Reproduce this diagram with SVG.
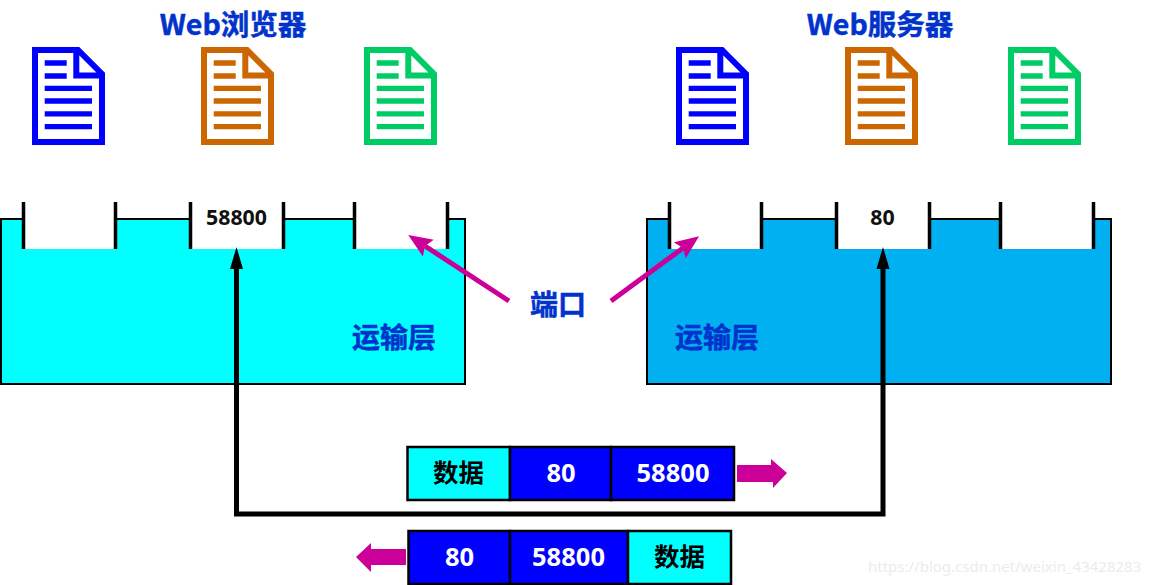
<svg xmlns="http://www.w3.org/2000/svg" width="1149" height="585" viewBox="0 0 1149 585">
<style>
text{font-family:"Noto Sans CJK SC","Noto Sans",sans-serif;font-weight:700;text-anchor:middle}
.t{fill:#0033cc;stroke:#0033cc;stroke-width:.5}
.big{font-size:28.500px}
.cn{font-size:28px}
.pk{font-size:25.500px;font-family:"Noto Sans","Noto Sans CJK SC",sans-serif}
.w{fill:#fff}.k{fill:#000}
.port{font-size:21.300px;font-family:"Noto Sans",sans-serif;fill:#111}
.box{stroke:#000;stroke-width:2}
.tick{stroke:#000;stroke-width:3.500}
.cell{stroke:#000;stroke-width:2.500}
.doc{fill:none;stroke-width:6;stroke-miterlimit:10}
.ln{stroke-width:5.300;fill:none}
.mg{stroke:#cc0099;stroke-width:5;fill:none}
.wm{font-family:"Noto Sans",sans-serif;font-weight:400;font-size:15px;fill:#ececec;text-anchor:start}
</style>
<defs>
<g id="d">
<path class="doc" d="M3 3H46L70 27V95H3Z M44.300 3V28.500H70"/>
<path class="ln" d="M12.700 16H34.700M12.700 29H34.700M12.700 41.300H60M12.700 54H60M12.700 66.800H60M12.700 79.700H60"/>
</g>
<marker id="mh" markerUnits="userSpaceOnUse" markerWidth="30" markerHeight="24" refX="4" refY="10" orient="auto"><path d="M0 0L24 10L0 20L4 10Z" fill="#cc0099"/></marker>
</defs>
<rect width="1149" height="585" fill="#fff"/>
<g id="web-browser-title"><text class="t big" x="233" y="35">Web浏览器</text></g>
<g id="web-server-title"><text class="t big" x="880" y="35">Web服务器</text></g>
<g id="doc1" stroke="#0000ff"><use href="#d" x="32" y="47"/></g>
<g id="doc2" stroke="#cc6600"><use href="#d" x="201" y="47"/></g>
<g id="doc3" stroke="#00cc66"><use href="#d" x="364" y="47"/></g>
<g id="doc4" stroke="#0000ff"><use href="#d" x="676" y="47"/></g>
<g id="doc5" stroke="#cc6600"><use href="#d" x="845" y="47"/></g>
<g id="doc6" stroke="#00cc66"><use href="#d" x="1008" y="47"/></g>
<g id="transport-left">
<rect class="box" x="1" y="219" width="464" height="165" fill="#00ffff"/>
<path fill="#fff" d="M23 200H116V249H23ZM190 200H284V249H190ZM354 200H447V249H354Z"/>
<path class="tick" d="M23.500 202V249M115.500 202V249M190.500 202V249M283.500 202V249M354.500 202V249M447.500 202V249"/>
<text class="t cn" x="394" y="348">运输层</text>
<text class="port" x="236.500" y="224.500">58800</text>
</g>
<g id="transport-right">
<rect class="box" x="647" y="219" width="464" height="165" fill="#00b0f0"/>
<path fill="#fff" d="M669 200H762V249H669ZM836 200H930V249H836ZM1000 200H1093V249H1000Z"/>
<path class="tick" d="M669.500 202V249M761.500 202V249M836.500 202V249M929.500 202V249M1000.500 202V249M1093.500 202V249"/>
<text class="t cn" x="717" y="348">运输层</text>
<text class="port" x="882.500" y="224.500">80</text>
</g>
<g id="port-label"><text class="t cn" x="558" y="315">端口</text></g>
<g id="packet-1">
<rect x="407.500" y="447" width="102.500" height="53" fill="#00ffff" class="cell"/>
<rect x="510" y="447" width="101" height="53" fill="#0000ff" class="cell"/>
<rect x="611" y="447" width="123" height="53" fill="#0000ff" class="cell"/>
<text class="pk k" x="458.500" y="481.500">数据</text>
<text class="pk w" x="561" y="481.500">80</text>
<text class="pk w" x="673" y="481.500">58800</text>
</g>
<g id="packet-2">
<rect x="408.500" y="531" width="101.500" height="53" fill="#0000ff" class="cell"/>
<rect x="510" y="531" width="118" height="53" fill="#0000ff" class="cell"/>
<rect x="628" y="531" width="103" height="53" fill="#00ffff" class="cell"/>
<text class="pk w" x="459.500" y="565.500">80</text>
<text class="pk w" x="568.500" y="565.500">58800</text>
<text class="pk k" x="679.500" y="565.500">数据</text>
</g>
<g id="connectors">
<path d="M236.500 262V514H883V262" fill="none" stroke="#000" stroke-width="5"/>
<path d="M236.500 247L243 269H230ZM883 247L889.500 269H876.500Z" fill="#000"/>
<path class="mg" d="M509 301L425 246" marker-end="url(#mh)"/>
<path class="mg" d="M611 301L683 248" marker-end="url(#mh)"/>
<path d="M737 465H771V459L787 473L773 488V482H737Z" fill="#cc0099"/>
<path d="M406 549H371V543L356 557L371 572V565H406Z" fill="#cc0099"/>
</g>
<g id="watermark"><text class="wm" x="868" y="572">https://blog.csdn.net/weixin_43428283</text></g>
</svg>
